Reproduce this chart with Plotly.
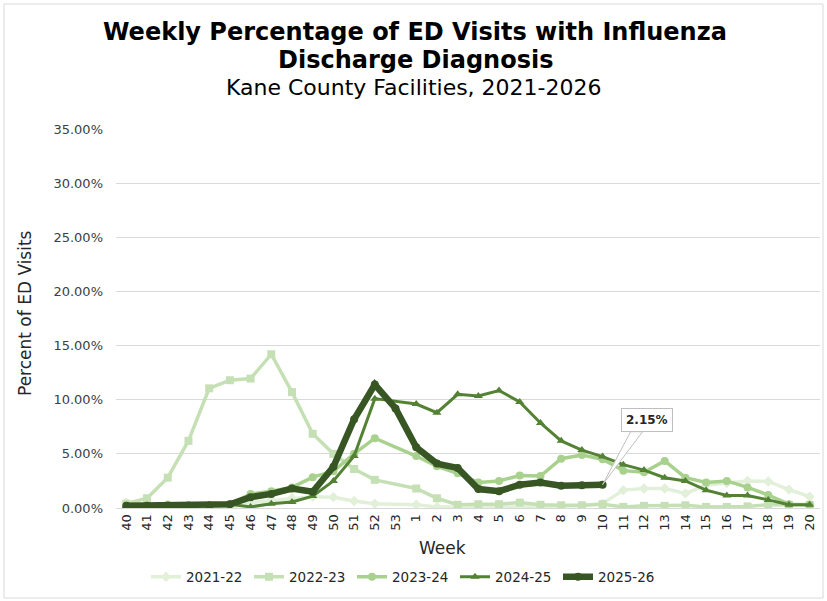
import plotly.graph_objects as go

# Weeks of the flu season (week 53 only in some seasons)
weeks = [str(w) for w in range(40, 54)] + [str(w) for w in range(1, 21)]

seasons = ["2021-22", "2022-23", "2023-24", "2024-25", "2025-26"]

s2021 = [0.5, 0.3, 0.3, 0.2, 0.1, 0.05, 0.5, 0.7, 0.9, 1.05, 1.0, 0.65, 0.4, None,
         0.3, 0.1, 0.1, 0.05, 0.05, 0.1, 0.15, 0.15, 0.2, 0.4, 1.65, 1.8, 1.8, 1.35,
         2.1, 2.3, 2.5, 2.45, 1.7, 1.05]
s2022 = [0.4, 0.9, 2.8, 6.2, 11.05, 11.8, 11.95, 14.2, 10.7, 6.85, 5.0, 3.6, 2.6, None,
         1.8, 0.9, 0.3, 0.35, 0.35, 0.5, 0.3, 0.25, 0.25, 0.35, 0.1, 0.2, 0.2, 0.25,
         0.1, 0.1, 0.15, 0.3, 0.3, 0.3]
s2023 = [0.2, 0.2, 0.3, 0.25, 0.25, 0.35, 1.3, 1.55, 1.9, 2.85, 3.4, 5.0, 6.45, None,
         4.8, 3.85, 3.2, 2.35, 2.5, 3.0, 2.95, 4.55, 4.9, 4.5, 3.45, 3.3, 4.35, 2.8,
         2.35, 2.5, 1.9, 1.2, 0.35, 0.3]
s2024 = [0.2, 0.15, 0.2, 0.2, 0.3, 0.35, 0.1, 0.4, 0.55, 1.1, 2.5, 4.8, 10.1, None,
         9.6, 8.8, 10.5, 10.35, 10.85, 9.8, 7.85, 6.2, 5.35, 4.75, 4.0, 3.5, 2.8, 2.5,
         1.65, 1.15, 1.15, 0.75, 0.3, 0.3]
s2025 = [0.2, 0.2, 0.2, 0.2, 0.2, 0.35, 1.0, 1.3, 1.8, 1.5, 3.8, 8.2, 11.4, 9.2,
         5.6, 4.1, 3.7, 1.75, 1.55, 2.15, 2.35, 2.05, 2.1, 2.15] + [None] * 10

reihen = [s2021, s2022, s2023, s2024, s2025]
boje = ["#E2F0D9", "#C5E0B4", "#A9D18E", "#548235", "#375623"]
markeri = ["diamond", "square", "circle", "triangle-up", "circle"]
debljine = [3.5, 3.5, 3.5, 3, 6.5]

FONT = "DejaVu Sans"

# Plot area in pixels: x 116..820, y 129..508
L, R, T, B = 116, 827 - 820, 129, 601 - 508
W, H = 827 - L - R, 601 - T - B

def px(x):
    return (x - L) / W

def py(y):
    return (T + H - y) / H

fig = go.Figure()
for naziv, vrednosti, boja, marker, sirina in zip(seasons, reihen, boje, markeri, debljine):
    fig.add_trace(go.Scatter(x=weeks, y=vrednosti, name=naziv, mode="lines+markers",
                             connectgaps=True,
                             line=dict(color=boja, width=sirina),
                             marker=dict(color=boja, symbol=marker, size=8)))

# Oznaka poslednje vrednosti tekuce sezone (x kao indeks kategorije)
poslednji = max(i for i, v in enumerate(s2025) if v is not None)
fig.add_shape(type="path", xref="x", yref="y", xsizemode="pixel", ysizemode="pixel",
              xanchor=poslednji, yanchor=s2025[poslednji],
              path="M0,0 L28,53 L40,53 Z",
              line=dict(color="#BFBFBF", width=1), fillcolor="white", layer="above")
fig.add_annotation(x=poslednji, y=s2025[poslednji], text="<b>%.2f%%</b>" % s2025[poslednji],
                   showarrow=False, xshift=44, yshift=65,
                   font=dict(family=FONT, size=12, color="#262626"),
                   bgcolor="white", bordercolor="#BFBFBF", borderwidth=1, borderpad=4)

# Naslovi i nazivi osa
def tekst(x, y, sadrzaj, velicina, boja="black", ugao=0):
    fig.add_annotation(xref="paper", yref="paper", x=px(x), y=py(y), text=sadrzaj,
                       xanchor="center", yanchor="middle", textangle=ugao,
                       showarrow=False, font=dict(family=FONT, size=velicina, color=boja))

tekst(415, 32, "<b>Weekly Percentage of ED Visits with Influenza</b>", 24)
tekst(415, 60, "<b>Discharge Diagnosis</b>", 24)
tekst(414, 88, "Kane County Facilities, 2021-2026", 22)
tekst(25, 313, "Percent of ED Visits", 17, "#262626", -90)
tekst(442, 548, "Week", 17, "#262626")

# Okvir grafika
fig.add_shape(type="rect", xref="paper", yref="paper",
              x0=px(4), x1=px(823), y0=py(598), y1=py(4),
              line=dict(color="#D9D9D9", width=1), layer="below")

fig.update_layout(
    width=827, height=601,
    margin=dict(l=L, r=R, t=T, b=B),
    paper_bgcolor="white", plot_bgcolor="white",
    font=dict(family=FONT, size=13, color="#404040"),
    showlegend=True,
    legend=dict(orientation="h", x=px(146), xanchor="left", y=py(577), yanchor="middle",
                font=dict(family=FONT, size=13.5, color="#262626"),
                entrywidth=58, entrywidthmode="pixels", itemwidth=30),
    xaxis=dict(type="category", categoryorder="array", categoryarray=weeks,
               range=[-0.5, len(weeks) - 0.5], tickangle=-90,
               showgrid=False, showline=True, linecolor="#D9D9D9", linewidth=1,
               ticks="", tickfont=dict(size=13, color="#262626")),
    yaxis=dict(range=[0, 35], dtick=5, tickformat=".2f", ticksuffix="%",
               showgrid=True, gridcolor="#D9D9D9", gridwidth=1, zeroline=False,
               ticks="", ticklabelstandoff=12, tickfont=dict(size=13, color="#404040")),
)

fig.write_html("out.html", config={"displayModeBar": False},
               post_script="document.body.style.margin='0';")
